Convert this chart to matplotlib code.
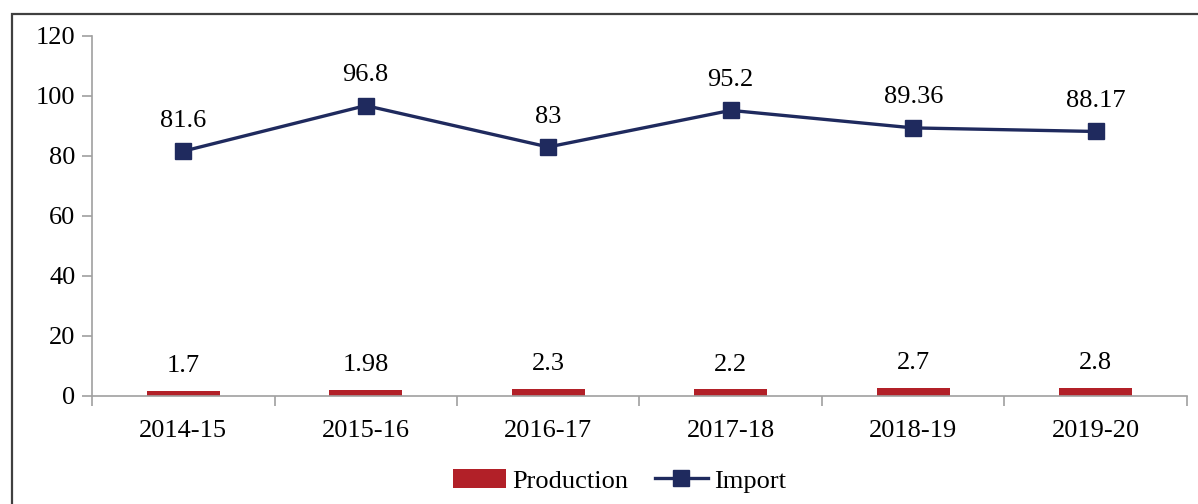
import numpy as np
import matplotlib.pyplot as plt
from matplotlib.patches import Rectangle

years = ["2014-15", "2015-16", "2016-17", "2017-18", "2018-19", "2019-20"]
production = [1.7, 1.98, 2.3, 2.2, 2.7, 2.8]
imports = [81.6, 96.8, 83, 95.2, 89.36, 88.17]
prod_labels = ["1.7", "1.98", "2.3", "2.2", "2.7", "2.8"]
imp_labels = ["81.6", "96.8", "83", "95.2", "89.36", "88.17"]

plt.rcParams['font.family'] = ['Liberation Serif', 'DejaVu Serif']

fig = plt.figure(figsize=(11.98, 5.04), dpi=100)
ax = fig.add_axes([0.0768, 0.2143, 0.9140, 0.7143])

x = np.arange(len(years))
red = '#B22028'
navy = '#1F2A5E'

bars = ax.bar(x, production, width=0.4, color=red, label="Production", zorder=2)
line, = ax.plot(x, imports, color=navy, lw=2.4, marker='s', markersize=12,
                label="Import", zorder=3)

for xi, v, t in zip(x, production, prod_labels):
    ax.annotate(t, (xi, v), xytext=(0, 10), textcoords='offset points',
                ha='center', va='bottom', fontsize=19)
for xi, v, t in zip(x, imports, imp_labels):
    ax.annotate(t, (xi, v), xytext=(0, 14), textcoords='offset points',
                ha='center', va='bottom', fontsize=19)

ax.set_xlim(-0.5, len(years) - 0.5)
ax.set_ylim(0, 120)
ax.set_yticks(range(0, 121, 20))
ax.set_xticks(x)
ax.set_xticklabels(years)
ax.set_xticks(np.arange(-0.5, len(years)), minor=True)
ax.tick_params(axis='x', which='major', length=0, pad=17, labelsize=19)
ax.tick_params(axis='x', which='minor', length=7, color='#A0A0A0', width=1.2)
ax.tick_params(axis='y', length=7, color='#A0A0A0', width=1.2, pad=5, labelsize=19)

for s in ['top', 'right']:
    ax.spines[s].set_visible(False)
for s in ['left', 'bottom']:
    ax.spines[s].set_color('#A0A0A0')
    ax.spines[s].set_linewidth(1.2)

ax.legend([bars, line], ["Production", "Import"], loc='center',
          bbox_to_anchor=(0.482, -0.236), ncol=2, frameon=False,
          fontsize=19, handlelength=2.0, handletextpad=0.25, columnspacing=1.0)

fig.patches.append(Rectangle((12 / 1198, -0.05), 1.2, 1 - 14 / 504 + 0.05,
                             transform=fig.transFigure, fill=False,
                             edgecolor='#404040', lw=1.6))

fig.savefig('out.png', dpi=100)
